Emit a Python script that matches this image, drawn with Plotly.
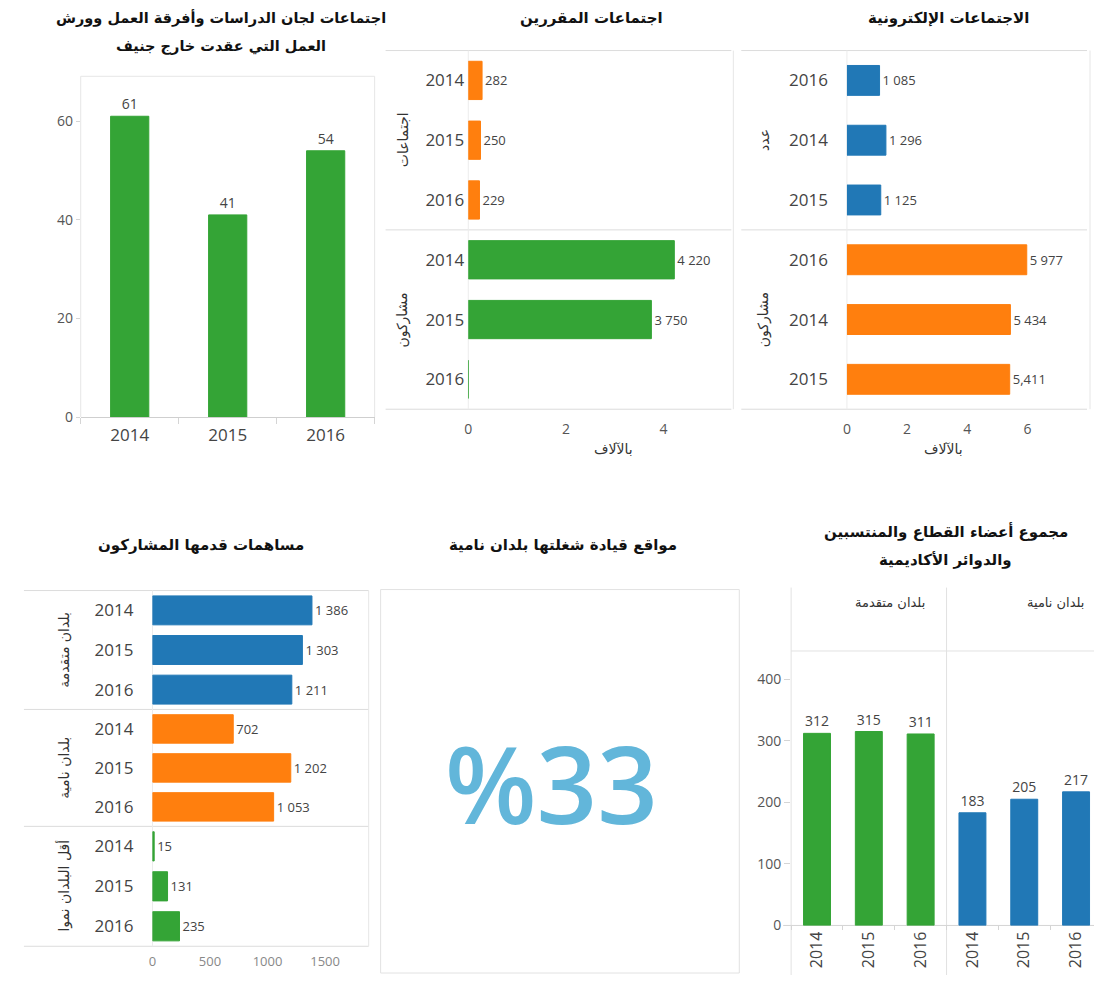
import plotly.graph_objects as go

W, H = 1094, 984

# ---------------- data ----------------
# Panel 1: study group meetings outside Geneva
p1_years = ["2014", "2015", "2016"]
p1_values = [61, 41, 54]

# Panel 2: rapporteur meetings
p2_years = ["2014", "2015", "2016"]
p2_meetings = [282, 250, 229]
p2_participants = [4220, 3750, 0]
p2_part_labels = ["4 220", "3 750", ""]

# Panel 3: e-meetings
p3_years = ["2016", "2014", "2015"]
p3_count = [1085, 1296, 1125]
p3_participants = [5977, 5434, 5411]
p3_part_labels = ["5 977", "5 434", "5,411"]

# Panel 4: contributions
p4_years = ["2014", "2015", "2016"]
p4_developed = [1386, 1303, 1211]
p4_developing = [702, 1202, 1053]
p4_ldc = [15, 131, 235]

# Panel 5: leadership share
p5_share = 33

# Panel 6: sector members, associates, academia
p6_years = ["2014", "2015", "2016"]
p6_developed = [312, 315, 311]
p6_developing = [183, 205, 217]

# ---------------- style ----------------
GREEN = "#34a436"
BLUE = "#2178b6"
ORANGE = "#ff7f0e"
BIG = "#62b6da"
LINE = "#dcdcdc"
AR = "DejaVu Sans"
NUM = "Open Sans, DejaVu Sans, sans-serif"
TXT = "#444444"


def X(p):
    return p / W


def Y(p):
    return 1 - p / H


def fmt(v):
    return f"{v:,}".replace(",", " ")


fig = go.Figure()


def hbar(vals, years, axn, color, width, labels=None, scale=1.0):
    fig.add_trace(go.Bar(
        x=[v / scale for v in vals], y=years, orientation="h",
        xaxis="x" + axn, yaxis="y" + axn,
        marker=dict(color=color, line=dict(color=color, width=1)),
        width=width,
        text=labels if labels is not None else [fmt(v) for v in vals],
        textposition="outside", constraintext="none", cliponaxis=False,
        textfont=dict(family=NUM, size=13, color=TXT),
        hoverinfo="skip", showlegend=False))


def vbar(vals, cats, axn, color, width, size=14):
    fig.add_trace(go.Bar(
        x=cats, y=vals,
        xaxis="x" + axn, yaxis="y" + axn,
        marker=dict(color=color, line=dict(color=color, width=1)),
        width=width,
        text=[fmt(v) for v in vals],
        textposition="outside", constraintext="none", cliponaxis=False,
        textfont=dict(family=NUM, size=size, color=TXT),
        hoverinfo="skip", showlegend=False))


# Panel 1
vbar(p1_values, p1_years, "", GREEN, 0.39, size=14)
# Panel 2
hbar(p2_meetings, p2_years, "2", ORANGE, 0.64, scale=1000)
hbar(p2_participants, p2_years, "3", GREEN, 0.64, labels=p2_part_labels, scale=1000)
# Panel 3
hbar(p3_count, p3_years, "4", BLUE, 0.5, scale=1000)
hbar(p3_participants, p3_years, "5", ORANGE, 0.5, labels=p3_part_labels, scale=1000)
# Panel 4
hbar(p4_developed, p4_years, "6", BLUE, 0.73)
hbar(p4_developing, p4_years, "7", ORANGE, 0.73)
hbar(p4_ldc, p4_years, "8", GREEN, 0.73)
# Panel 6
vbar(p6_developed, p6_years, "9", GREEN, 0.52)
vbar(p6_developing, p6_years, "10", BLUE, 0.52)


def ycat(n, top, bot, years, standoff):
    return dict(anchor="x" + n, domain=[Y(bot), Y(top)], type="category",
                categoryorder="array", categoryarray=years, autorange="reversed",
                showgrid=False, zeroline=False, showline=False, ticks="",
                tickfont=dict(family=NUM, size=17, color=TXT),
                ticklabelstandoff=standoff)


def xnum(n, left, right, rng, tickvals=None, size=13, color="#555", standoff=8):
    d = dict(anchor="y" + n, domain=[X(left), X(right)], range=rng, showgrid=False,
             zeroline=False, showline=False, ticks="",
             showticklabels=tickvals is not None,
             tickfont=dict(family=NUM, size=size, color=color))
    if tickvals is not None:
        d["tickvals"] = tickvals
        d["ticklabelstandoff"] = standoff
    return d


p2_rng = [0, (730 - 466) / 49.0]
p3_rng = [0, (1085 - 846) / 30.2]
p4_rng = [0, (366 - 149) / 0.1155]

layout_axes = dict(
    # panel 1
    xaxis=dict(anchor="y", domain=[X(77), X(372)], type="category", showgrid=False,
               zeroline=False, showline=True, linecolor="#cfcfcf", ticks="outside",
               tickson="boundaries", ticklen=6, tickcolor="#d5d5d5",
               tickfont=dict(family=NUM, size=17, color=TXT), ticklabelstandoff=2),
    yaxis=dict(anchor="x", domain=[Y(421), Y(77)], range=[0, 69.1],
               tickvals=[0, 20, 40, 60], showgrid=False, zeroline=False,
               showline=False, ticks="outside", ticklen=4, tickcolor="#d5d5d5",
               tickfont=dict(family=NUM, size=14, color="#555")),
    # panel 2
    xaxis2=xnum("2", 466, 730, p2_rng),
    yaxis2=ycat("2", 51, 232, p2_years, 3),
    xaxis3=xnum("3", 466, 730, p2_rng, tickvals=[0, 2, 4], size=14, standoff=10),
    yaxis3=ycat("3", 232, 413, p2_years, 3),
    # panel 3
    xaxis4=xnum("4", 846, 1085, p3_rng),
    yaxis4=ycat("4", 51, 232, p3_years, 18),
    xaxis5=xnum("5", 846, 1085, p3_rng, tickvals=[0, 2, 4, 6], size=14, standoff=10),
    yaxis5=ycat("5", 232, 413, p3_years, 18),
    # panel 4
    xaxis6=xnum("6", 149, 366, p4_rng),
    yaxis6=ycat("6", 596, 716, p4_years, 18),
    xaxis7=xnum("7", 149, 366, p4_rng),
    yaxis7=ycat("7", 716, 834, p4_years, 18),
    xaxis8=xnum("8", 149, 366, p4_rng, tickvals=[0, 500, 1000, 1500], size=13,
                color="#888", standoff=6),
    yaxis8=ycat("8", 834, 955, p4_years, 18),
    # panel 6
    xaxis9=dict(anchor="y9", domain=[X(790), X(946)], type="category",
                range=[-0.5, 2.5], showgrid=False, zeroline=False, showline=False,
                ticks="outside", tickson="boundaries", ticklen=4, tickcolor="#d5d5d5",
                tickangle=-90, tickfont=dict(family=NUM, size=16, color=TXT),
                ticklabelstandoff=2),
    yaxis9=dict(anchor="x9", domain=[Y(934), Y(655)], range=[0, 449],
                tickvals=[0, 100, 200, 300, 400], showgrid=False, zeroline=False,
                showline=False, ticks="outside", ticklen=6, tickcolor="#d5d5d5",
                tickfont=dict(family=NUM, size=14, color="#555")),
    xaxis10=dict(anchor="y10", domain=[X(946), 1.0], type="category",
                 range=[-0.5, 2.5 - (1102 - 1094) / 52.0],
                 showgrid=False, zeroline=False, showline=False, ticks="outside",
                 tickson="boundaries", ticklen=4, tickcolor="#d5d5d5", tickangle=-90,
                 tickfont=dict(family=NUM, size=16, color=TXT), ticklabelstandoff=2),
    yaxis10=dict(anchor="x10", domain=[Y(934), Y(655)], range=[0, 449],
                 showgrid=False, zeroline=False, showline=False,
                 showticklabels=False, ticks=""),
)

shapes = []


def hline(x0, x1, y, color=LINE):
    shapes.append(dict(type="line", xref="paper", yref="paper", x0=X(x0), x1=X(x1),
                       y0=Y(y), y1=Y(y), line=dict(color=color, width=1), layer="below"))


def vline(x, y0, y1, color=LINE):
    shapes.append(dict(type="line", xref="paper", yref="paper", x0=X(x), x1=X(x),
                       y0=Y(y0), y1=Y(y1), line=dict(color=color, width=1), layer="below"))


# panel 1 frame
vline(77, 77, 421, "#e6e6e6")
hline(77, 372, 77, "#e6e6e6")
vline(372, 77, 421, "#e6e6e6")
# panel 2 frame
for yy in (51, 232, 413):
    hline(383, 730, yy)
vline(732, 51, 413, "#e6e6e6")
vline(466, 51, 413, "#ececec")
# panel 3 frame
for yy in (51, 232, 413):
    hline(740, 1087, yy)
vline(1090, 51, 413, "#e6e6e6")
vline(846, 51, 413, "#ececec")
# panel 4 frame
for yy in (596, 716, 834, 955):
    hline(20, 366, yy)
vline(366, 596, 955, "#e6e6e6")
vline(149, 596, 955, "#ececec")
# panel 5 box
shapes.append(dict(type="rect", xref="paper", yref="paper", x0=X(378), x1=X(738),
                   y0=Y(982), y1=Y(595), line=dict(color="#e2e2e2", width=1)))
# panel 6 frame
vline(790, 593, 984, "#e2e2e2")
vline(946, 593, 984, "#e2e2e2")
hline(790, 1094, 657, "#e2e2e2")
hline(782, 1094, 934, "#d5d5d5")

annotations = []


def text(x, y, s, size=15, color="#111", angle=0, family=AR, bold=False):
    if bold:
        s = "<b>" + s + "</b>"
    annotations.append(dict(x=X(x), y=Y(y), xref="paper", yref="paper", text=s,
                            showarrow=False, xanchor="center", yanchor="middle",
                            textangle=angle,
                            font=dict(family=family, size=size, color=color)))


# titles
text(218, 18, "اجتماعات لجان الدراسات وأفرقة العمل وورش", size=14.5, bold=True)
text(218, 47, "العمل التي عقدت خارج جنيف", size=14.5, bold=True)
text(590, 18, "اجتماعات المقررين", bold=True)
text(948, 18, "الاجتماعات الإلكترونية", bold=True)
text(198, 550, "مساهمات قدمها المشاركون", bold=True)
text(561, 550, "مواقع قيادة شغلتها بلدان نامية", bold=True)
text(945, 536, "مجموع أعضاء القطاع والمنتسبين", bold=True)
text(945, 565, "والدوائر الأكاديمية", bold=True)

# axis titles
text(612, 453, "بالآلاف", size=14, color="#333")
text(943, 453, "بالآلاف", size=14, color="#333")

# row headers
text(400, 141, "اجتماعات", size=14, color="#333", angle=-90)
text(400, 323, "مشاركون", size=14, color="#333", angle=-90)
text(762, 141, "عدد", size=14, color="#333", angle=-90)
text(762, 323, "مشاركون", size=14, color="#333", angle=-90)
text(60, 656, "بلدان متقدمة", size=14, color="#333", angle=-90)
text(60, 775, "بلدان نامية", size=14, color="#333", angle=-90)
text(60, 894, "أقل البلدان نموا", size=14, color="#333", angle=-90)

# column headers panel 6
text(889, 608, "بلدان متقدمة", size=13, color="#333")
text(1055, 608, "بلدان نامية", size=13, color="#333")

# big KPI
annotations.append(dict(x=X(550), y=Y(790), xref="paper", yref="paper",
                        text="%" + str(p5_share), showarrow=False,
                        xanchor="center", yanchor="middle",
                        font=dict(family="Open Sans, sans-serif", size=106,
                                  color=BIG, weight=600)))

fig.update_layout(
    width=W, height=H, margin=dict(l=0, r=0, t=0, b=0),
    paper_bgcolor="white", plot_bgcolor="white",
    font=dict(family=NUM, color=TXT),
    showlegend=False, barmode="overlay",
    shapes=shapes, annotations=annotations,
    **layout_axes,
)

fig.write_html("out.html",
               config={"displayModeBar": False},
               post_script="document.body.style.margin='0';"
                           "document.body.style.overflow='hidden';")
